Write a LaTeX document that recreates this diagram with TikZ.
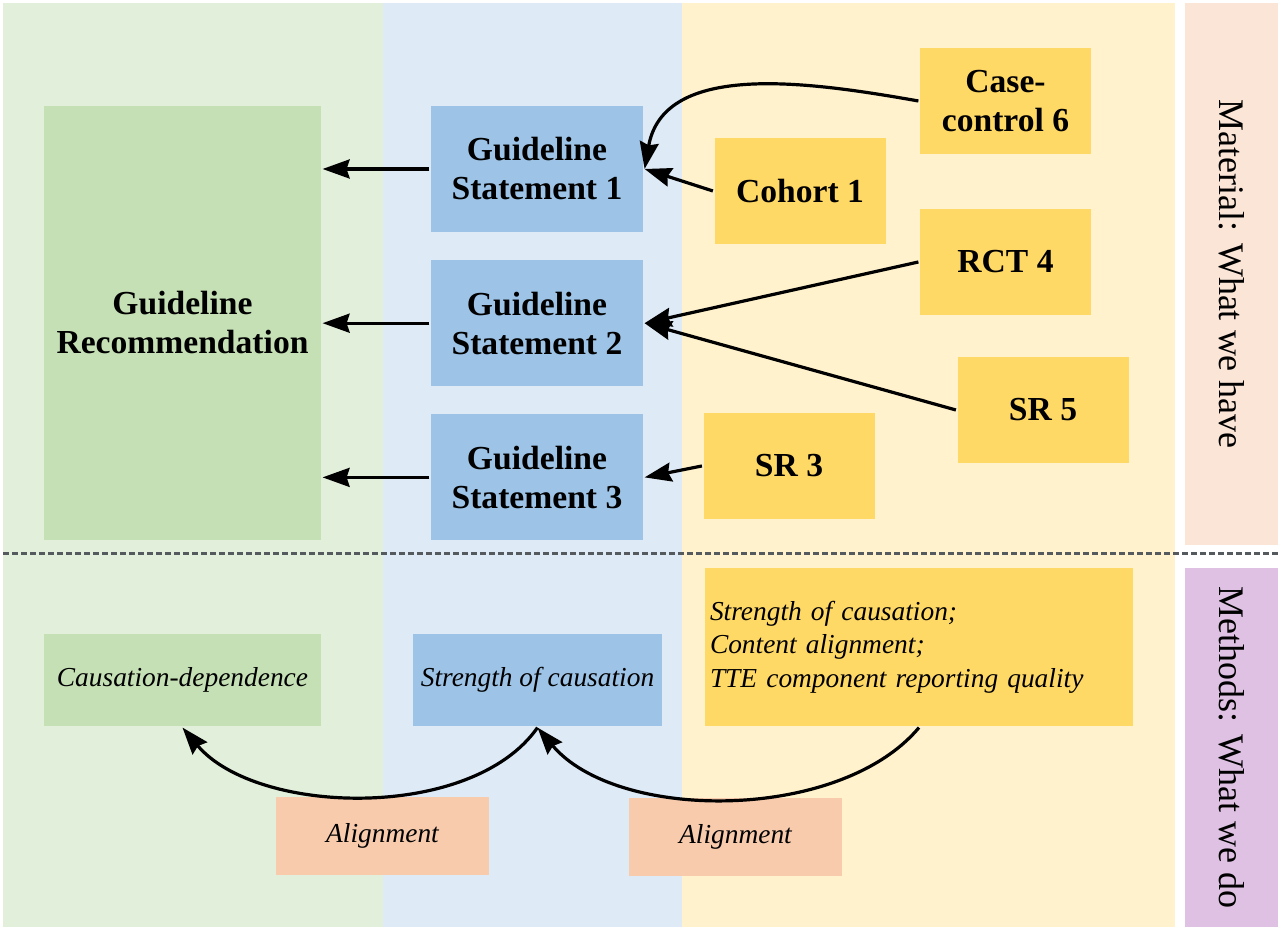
\documentclass[tikz,border=0pt]{standalone}
\usepackage{fontspec}
\setmainfont{Liberation Serif}
\usetikzlibrary{arrows.meta,positioning}

\definecolor{greenbg}{HTML}{E2EFDA}
\definecolor{bluebg}{HTML}{DEEBF7}
\definecolor{yellowbg}{HTML}{FFF2CC}
\definecolor{greenbox}{HTML}{C5E0B4}
\definecolor{bluebox}{HTML}{9DC3E6}
\definecolor{yellowbox}{HTML}{FFD966}
\definecolor{orangebox}{HTML}{F8CBAD}
\definecolor{pinklbl}{HTML}{FBE5D6}
\definecolor{purplelbl}{HTML}{DFC2E3}
\definecolor{dashgray}{HTML}{545A5E}

\begin{document}
\begin{tikzpicture}[>={Stealth[length=13.5pt,width=9.5pt,inset=1.5pt]},->,line width=1.6pt,
        x=0.5pt,y=0.5pt,
        box/.style={inner sep=0pt,align=center,font=\bfseries\fontsize{16.8}{19.5}\selectfont},
        ibox/.style={inner sep=0pt,align=center,font=\itshape\fontsize{13.7}{16.8}\selectfont},
        stmt/.style={box,fill=bluebox,minimum width=106pt,minimum height=63pt},
        study/.style={box,fill=yellowbox,minimum width=85.5pt,minimum height=53pt},
        alignbox/.style={ibox,fill=orangebox,minimum width=106.5pt,minimum height=39pt},
        sidelbl/.style={inner sep=0pt,rotate=-90,font=\fontsize{18}{21}\selectfont,minimum height=46.5pt}]

  \useasboundingbox (0,0) rectangle (1280,929);
  \fill[-,white] (0,0) rectangle (1280,929);

  % columns
  \fill[-,greenbg]  (3,2)   rectangle (383,926);
  \fill[-,bluebg]   (383,2) rectangle (682,926);
  \fill[-,yellowbg] (682,2) rectangle (1175,926);
  \draw[-,line width=1.5pt,dashgray,dash pattern=on 3pt off 1.5pt] (3,375) -- (1278,375);

  \node[sidelbl,fill=pinklbl,minimum width=271pt] (material) at (1231.5,655) {Material: What we have};
  \node[sidelbl,fill=purplelbl,minimum width=179.5pt] (methods) at (1231.5,181.5) {Methods: What we do};

  % what we have
  \node[box,fill=greenbox,minimum width=138.5pt,minimum height=217pt] (rec) at (182.5,606) {Guideline\\Recommendation};
  \node[stmt] (gs1) at (537,760) {Guideline\\Statement 1};
  \node[stmt] (gs2) [below=12.5pt of gs1] {Guideline\\Statement 2};
  \node[stmt] (gs3) [below=12.5pt of gs2] {Guideline\\Statement 3};
  \node[study] (cc6) at (1005.5,828) {Case-\\control 6};
  \node[study] (coh) at (800,738) {Cohort 1};
  \node[study] (rct) at (1005.5,667) {RCT 4};
  \node[study] (sr5) at (1043,519) {SR 5};
  \node[study] (sr3) at (789,463) {SR 3};

  % what we do
  \node[ibox,fill=greenbox,minimum width=138.5pt,minimum height=46pt] (cd) at (182.5,249) {Causation-dependence};
  \node[ibox,fill=bluebox,minimum width=124.5pt,minimum height=46pt] (soc) at (537.5,249) {Strength of causation};
  \node[ibox,fill=yellowbox,text width=209pt,inner xsep=2.5pt,minimum height=79pt,align=left] (obs) at (919,282)
        {Strength of causation;\\Content alignment;\\TTE component reporting quality};
  \node[alignbox] (al1) at (382.5,93) {Alignment};
  \node[alignbox] (al2) at (735.5,92) {Alignment};

  \path
        (gs1.west) edge (gs1.west -| rec.east)
        (gs2.west) edge (gs2.west -| rec.east)
        (gs3.west) edge (gs3.west -| rec.east)
        (cc6.west) edge[out=170,in=80] (gs1.east)
        (coh.west) edge (gs1.east)
        (rct.west) edge (gs2.east)
        (sr5.west) edge (gs2.east)
        (sr3.west) edge (gs3.east)
        (soc.south) edge[out=-125,in=-50,looseness=0.83] (cd.south)
        (obs.south) edge[out=-130,in=-50,looseness=0.83] (soc.south);

\end{tikzpicture}
\end{document}
